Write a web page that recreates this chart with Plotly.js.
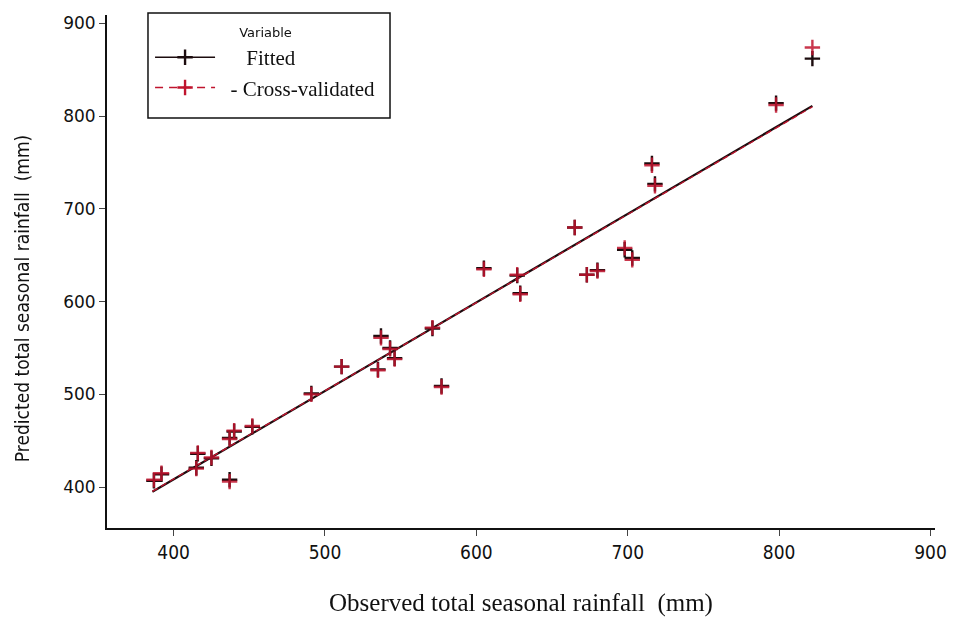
<!DOCTYPE html>
<html>
<head>
<meta charset="utf-8">
<script src="https://cdn.plot.ly/plotly-3.0.1.min.js"></script>
<style>
  html, body { margin: 0; padding: 0; background: #ffffff; }
  #chart { width: 955px; height: 617px; }
</style>
</head>
<body>
<div id="chart"></div>
<script>
// Observed seasonal rainfall (mm) for each season
const observed = [387, 392, 415, 416, 425, 437, 440, 437, 452, 491, 511, 537, 535, 543, 546,
                  571, 577, 605, 627, 629, 665, 673, 680, 698, 703, 716, 718, 798, 822];
// Model predictions fitted on all seasons (mm)
const fitted = [407, 414, 421, 436, 431, 453, 460, 408, 465, 501, 530, 563, 527, 550, 539,
                571, 509, 636, 628, 609, 680, 629, 634, 656, 647, 749, 727, 814, 862];
// Leave-one-out cross-validated predictions (mm)
const crossValidated = [408, 415, 420, 437, 432, 452, 461, 406, 466, 500, 530, 561, 526, 549, 538,
                        572, 508, 635, 629, 608, 680, 629, 633, 658, 645, 747, 725, 812, 874];

// Regression line end points (observed, predicted)
const lineObserved = [386, 822];
const fittedLine = [395, 811];
const crossValidatedLine = [395.5, 810];

const tickValues = [400, 500, 600, 700, 800, 900];

const fitColor = '#1c0c0e';
const cvColor = '#c0142e';
const nb = '\u00a0';

const crossMarker = (color) => ({
  symbol: 'cross-thin',
  size: 11,
  color: color,
  line: { color: color, width: 2.4 }
});

const traces = [
  {
    x: lineObserved, y: fittedLine, type: 'scatter', mode: 'lines',
    line: { color: fitColor, width: 2.2 }, showlegend: false, hoverinfo: 'skip'
  },
  {
    x: lineObserved, y: crossValidatedLine, type: 'scatter', mode: 'lines',
    line: { color: cvColor, width: 1.3, dash: '6px,4px' }, showlegend: false, hoverinfo: 'skip'
  },
  {
    x: observed, y: fitted, type: 'scatter', mode: 'markers',
    marker: crossMarker(fitColor), showlegend: false, name: 'Fitted'
  },
  {
    x: observed, y: crossValidated, type: 'scatter', mode: 'markers',
    marker: crossMarker(cvColor), opacity: 0.85, showlegend: false, name: 'Cross-validated'
  },
  // legend entries
  {
    x: [null], y: [null], type: 'scatter', mode: 'lines+markers', name: nb.repeat(5) + 'Fitted',
    line: { color: fitColor, width: 1.5 }, marker: crossMarker(fitColor)
  },
  {
    x: [null], y: [null], type: 'scatter', mode: 'lines+markers', name: nb.repeat(2) + '- Cross-validated',
    line: { color: cvColor, width: 1.5, dash: '8px,6px' }, marker: crossMarker(cvColor)
  }
];

const layout = {
  width: 955,
  height: 617,
  paper_bgcolor: '#ffffff',
  plot_bgcolor: '#ffffff',
  margin: { l: 107, r: 20, t: 15, b: 89 },
  showlegend: true,
  legend: {
    x: 0.052, y: 0.99, xanchor: 'left', yanchor: 'top',
    bgcolor: 'rgba(0,0,0,0)', borderwidth: 0,
    itemwidth: 60,
    font: { family: 'Liberation Serif, serif', size: 21, color: '#111111' },
    title: { text: 'Variable', side: 'top center', font: { family: 'DejaVu Sans, sans-serif', size: 13, color: '#111111' } },
    tracegroupgap: 0
  },
  // legend frame
  shapes: [{
    type: 'rect', xref: 'paper', yref: 'paper',
    x0: 0.0495, x1: 0.3418, y0: 0.7992, y1: 1.0039,
    line: { color: '#111111', width: 1.5 }, fillcolor: 'rgba(0,0,0,0)', layer: 'above'
  }],
  xaxis: {
    range: [356, 903],
    tickvals: tickValues,
    ticktext: tickValues.map(String),
    ticks: 'outside', ticklen: 6, tickwidth: 1, tickcolor: '#444444',
    showline: true, linecolor: '#111111', linewidth: 2,
    showgrid: false, zeroline: false,
    tickfont: { family: 'Liberation Sans Narrow, DejaVu Sans Condensed, sans-serif', size: 19, color: '#111111' },
    title: { text: 'Observed total seasonal rainfall  (mm)', standoff: 33,
             font: { family: 'Liberation Serif, serif', size: 25, color: '#111111' } }
  },
  yaxis: {
    range: [356, 909],
    tickvals: tickValues,
    ticktext: tickValues.map(String),
    ticks: 'outside', ticklen: 6, tickwidth: 1, tickcolor: '#444444',
    showline: true, linecolor: '#111111', linewidth: 2,
    showgrid: false, zeroline: false,
    tickfont: { family: 'DejaVu Sans, sans-serif', size: 17, color: '#111111' }
  },
  annotations: [{
    text: 'Predicted total seasonal rainfall  (mm)',
    xref: 'paper', yref: 'paper', x: -0.1027, y: 0.448,
    xanchor: 'center', yanchor: 'middle', textangle: -90, showarrow: false,
    font: { family: 'Liberation Sans Narrow, DejaVu Sans Condensed, sans-serif', size: 19, color: '#111111' }
  }]
};

Plotly.newPlot('chart', traces, layout, { displayModeBar: false, staticPlot: true });
</script>
</body>
</html>
